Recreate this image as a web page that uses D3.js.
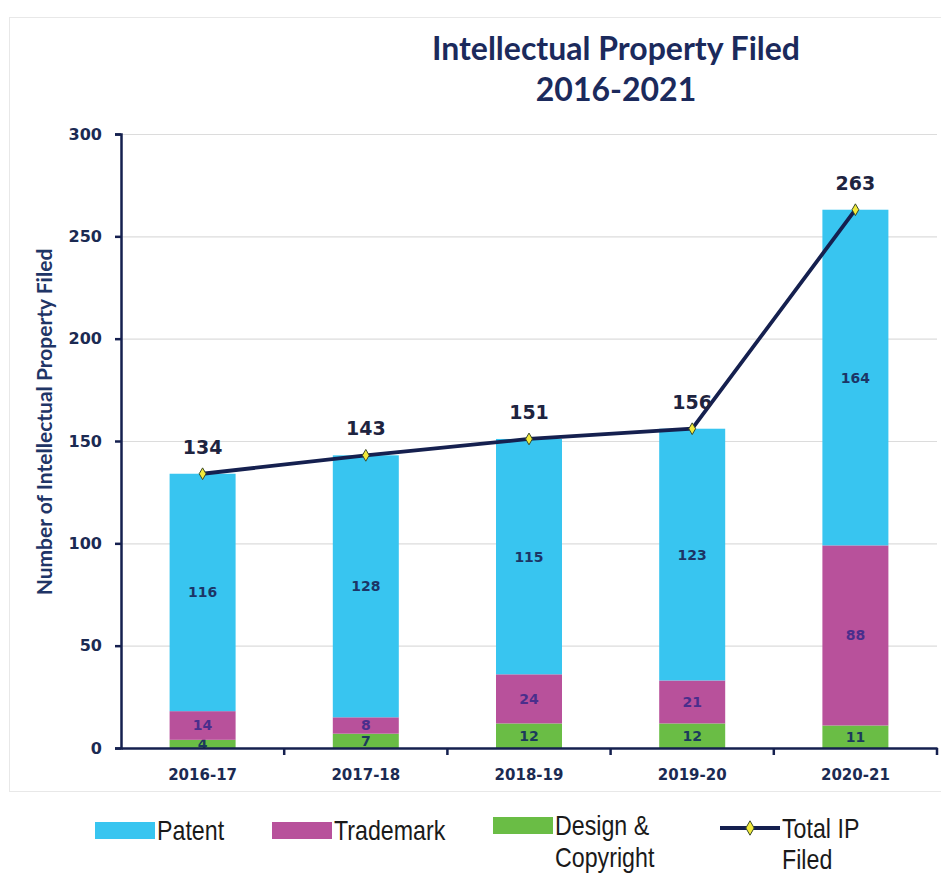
<!DOCTYPE html>
<html>
<head>
<meta charset="utf-8">
<script src="https://cdn.jsdelivr.net/npm/d3@7"></script>
<style>
	body{margin:0;background:#fff;}
	svg{display:block;}
</style>
</head>
<body>
<div id="chart_div"></div>
<script>

////////////////////////////////////////
// data
////////////////////////////////////////

var years = ['2016-17','2017-18','2018-19','2019-20','2020-21'];
var design = [4,7,12,12,11];
var trademark = [14,8,24,21,88];
var patent = [116,128,115,123,164];
var totalIP = [134,143,151,156,263];
var yTicks = [0,50,100,150,200,250,300];

var seriesNames = ['Design & Copyright','Trademark','Patent'];
var seriesColors = ['#6abd45','#b8519b','#38c5f0'];
var labelColors = ['#1c3a5c','#4a2e8c','#1c3566'];

////////////////////////////////////////
// setup
////////////////////////////////////////

var W = 941, H = 877;
var navy = '#15204f';
var plot_left = 121, plot_right = 937, plot_top = 134, plot_bottom = 748;
var barWidth = 66;

var svg = d3.select('#chart_div').append('svg')
	.attr('width',W)
	.attr('height',H);

// faint frame around chart
svg.append('rect')
	.attr('x',9.5)
	.attr('y',17.5)
	.attr('width',940)
	.attr('height',774)
	.attr('fill','none')
	.attr('stroke','#e8e8e8');

var x = d3.scaleBand()
	.domain(years)
	.range([plot_left,plot_right]);

var y = d3.scaleLinear()
	.domain([0,300])
	.range([plot_bottom,plot_top]);

// gridlines
svg.append('g')
	.selectAll('line')
	.data(yTicks.slice(1))
	.enter().append('line')
	.attr('x1',plot_left)
	.attr('x2',plot_right)
	.attr('y1',function(d){ return y(d)+0.5; })
	.attr('y2',function(d){ return y(d)+0.5; })
	.attr('stroke','#dcdcdc')
	.attr('stroke-width',1.2);

////////////////////////////////////////
// stacked bars
////////////////////////////////////////

var rows = years.map(function(yr,i){
	return {year:yr,design:design[i],trademark:trademark[i],patent:patent[i]};
});
var stack = d3.stack().keys(['design','trademark','patent'])(rows);

var layers = svg.append('g').selectAll('g')
	.data(stack)
	.enter().append('g')
	.attr('fill',function(d,i){ return seriesColors[i]; });

layers.selectAll('rect')
	.data(function(d){ return d; })
	.enter().append('rect')
	.attr('x',function(d){ return x(d.data.year)+x.bandwidth()/2-barWidth/2; })
	.attr('width',barWidth)
	.attr('y',function(d){ return y(d[1]); })
	.attr('height',function(d){ return y(d[0])-y(d[1]); });

layers.each(function(layer,li){
	d3.select(this).selectAll('text')
		.data(layer)
		.enter().append('text')
		.attr('x',function(d){ return x(d.data.year)+x.bandwidth()/2; })
		.attr('y',function(d){ return (y(d[0])+y(d[1]))/2+5; })
		.attr('text-anchor','middle')
		.attr('font-family','DejaVu Sans, sans-serif')
		.attr('font-weight','bold')
		.attr('font-size',14)
		.attr('fill',labelColors[li])
		.text(function(d){ return d[1]-d[0]; });
});

////////////////////////////////////////
// axes
////////////////////////////////////////

var yAxis = svg.append('g')
	.attr('transform','translate('+plot_left+',0)')
	.call(d3.axisLeft(y).tickValues(yTicks).tickSize(6).tickPadding(13));

var xAxis = svg.append('g')
	.attr('transform','translate(0,'+plot_bottom+')')
	.call(d3.axisBottom(x).tickSize(0).tickPadding(21));

[yAxis,xAxis].forEach(function(ax){
	ax.select('.domain').attr('stroke',navy).attr('stroke-width',2.5);
	ax.selectAll('.tick line').attr('stroke',navy).attr('stroke-width',2.5);
	ax.selectAll('text')
		.attr('fill','#1b2a52')
		.attr('font-family','DejaVu Sans, sans-serif')
		.attr('font-weight','bold');
});
yAxis.selectAll('text').attr('font-size',16);
xAxis.selectAll('text').attr('font-size',15);

// category separator ticks on x axis
svg.append('g')
	.selectAll('line')
	.data(years)
	.enter().append('line')
	.attr('x1',function(d){ return x(d)+x.bandwidth(); })
	.attr('x2',function(d){ return x(d)+x.bandwidth(); })
	.attr('y1',plot_bottom)
	.attr('y2',plot_bottom+7)
	.attr('stroke',navy)
	.attr('stroke-width',2.5);

svg.append('text')
	.attr('transform','translate(52,422) rotate(-90)')
	.attr('text-anchor','middle')
	.attr('font-family','Lato, sans-serif')
	.attr('font-weight','bold')
	.attr('font-size',21)
	.attr('fill','#1f3566')
	.text('Number of Intellectual Property Filed');

////////////////////////////////////////
// total line
////////////////////////////////////////

var line = d3.line()
	.x(function(d,i){ return x(years[i])+x.bandwidth()/2; })
	.y(function(d){ return y(d); });

svg.append('path')
	.datum(totalIP)
	.attr('d',line)
	.attr('fill','none')
	.attr('stroke',navy)
	.attr('stroke-width',3.8);

var diamond = d3.symbol().type(d3.symbolDiamond).size(40);

svg.append('g').selectAll('path')
	.data(totalIP)
	.enter().append('path')
	.attr('d',diamond)
	.attr('transform',function(d,i){
		return 'translate('+(x(years[i])+x.bandwidth()/2)+','+y(d)+')';
	})
	.attr('fill','#f2ea3a')
	.attr('stroke','#3a4a2a')
	.attr('stroke-width',1);

svg.append('g').selectAll('text')
	.data(totalIP)
	.enter().append('text')
	.attr('x',function(d,i){ return x(years[i])+x.bandwidth()/2; })
	.attr('y',function(d){ return y(d)-20; })
	.attr('text-anchor','middle')
	.attr('font-family','DejaVu Sans, sans-serif')
	.attr('font-weight','bold')
	.attr('font-size',19)
	.attr('fill','#1e2440')
	.text(function(d){ return d; });

////////////////////////////////////////
// title
////////////////////////////////////////

svg.append('text')
	.attr('x',616)
	.attr('y',60)
	.attr('text-anchor','middle')
	.attr('font-family','Lato, sans-serif')
	.attr('font-weight','bold')
	.attr('font-size',32)
	.attr('fill','#1b2a5c')
	.text('Intellectual Property Filed');

svg.append('text')
	.attr('x',616)
	.attr('y',101)
	.attr('text-anchor','middle')
	.attr('font-family','Lato, sans-serif')
	.attr('font-weight','bold')
	.attr('font-size',32)
	.attr('fill','#1b2a5c')
	.text('2016-2021');

////////////////////////////////////////
// legend
////////////////////////////////////////

var legendFont = '"Liberation Sans", Arial, sans-serif';
var legendItems = [
	{x:95,  sy:822, lines:['Patent'], color:seriesColors[2]},
	{x:272, sy:822, lines:['Trademark'], color:seriesColors[1]},
	{x:493, sy:817, lines:['Design &','Copyright'], color:seriesColors[0]}
];

function legendText(tx,ty,t){
	svg.append('text')
		.attr('transform','translate('+tx+','+ty+') scale(0.86,1)')
		.attr('font-family',legendFont)
		.attr('font-size',27)
		.attr('fill','#1a1a1a')
		.text(t);
}

legendItems.forEach(function(it){
	svg.append('rect')
		.attr('x',it.x)
		.attr('y',it.sy)
		.attr('width',60)
		.attr('height',17)
		.attr('fill',it.color);
	it.lines.forEach(function(t,k){
		legendText(it.x+62,it.sy+18+k*32,t);
	});
});

svg.append('line')
	.attr('x1',720)
	.attr('x2',780)
	.attr('y1',828)
	.attr('y2',828)
	.attr('stroke',navy)
	.attr('stroke-width',4);

svg.append('path')
	.attr('d',d3.symbol().type(d3.symbolDiamond).size(60))
	.attr('transform','translate(750,828)')
	.attr('fill','#f2ea3a')
	.attr('stroke','#3a4a2a')
	.attr('stroke-width',1);

['Total IP','Filed'].forEach(function(t,k){
	legendText(782,838+k*31,t);
});

</script>
</body>
</html>
